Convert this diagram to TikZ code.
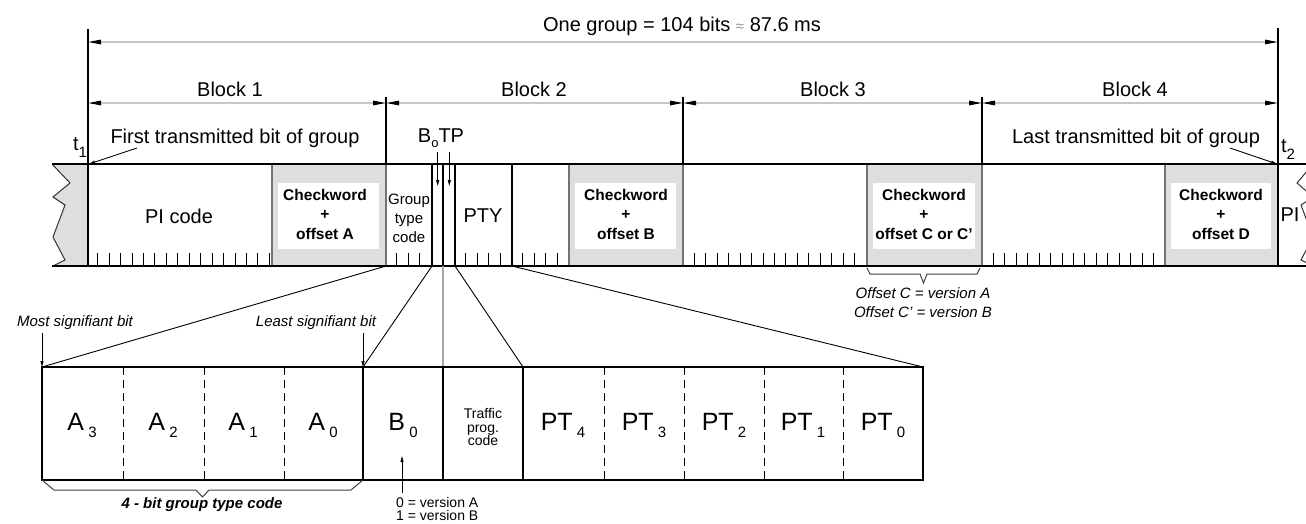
\documentclass[tikz,border=0pt]{standalone}
\usepackage{fontspec}
\setmainfont{Liberation Sans}
\usetikzlibrary{arrows.meta}
\newcommand\fsz[2]{\fontsize{#1}{#2}\selectfont}
\newcommand\lowsub[1]{\,\raisebox{-7pt}{\fsz{15}{15}#1}}
\newcommand\tsub[1]{\raisebox{-7pt}{\fsz{15}{15}#1}}
\begin{document}
\begin{tikzpicture}[x=1pt,y=-1pt,
  txt/.style={inner sep=0pt,font=\fsz{20}{24}},
  chk/.style={inner sep=0pt,align=center,font=\fsz{15.5}{19.5}\bfseries},
  gtc/.style={inner sep=0pt,align=center,font=\fsz{15}{19}},
  tpc/.style={inner sep=0pt,align=center,font=\fsz{14}{13.5}},
  small/.style={inner sep=0pt,font=\fsz{15}{18}\itshape},
  ver/.style={inner sep=0pt,font=\fsz{14}{16},anchor=west},
  cell/.style={inner sep=0pt,font=\fsz{25}{28}},
  dimline/.style={draw=black!22,line width=1.3pt,{Triangle[length=13pt,width=4.5pt,color=black]}-{Triangle[length=13pt,width=4.5pt,color=black]}},
  vline/.style={draw=black,line width=1.2pt},
  strip/.style={draw=black,line width=1.2pt},
  tick/.style={draw=black,line width=1pt},
  grayreg/.style={fill=black!13,draw=black!55,line width=1.2pt},
  innerbox/.style={fill=white,draw=none},
  fan/.style={draw=black,line width=0.9pt},
  ptr/.style={draw=black,line width=0.9pt,-{Triangle[length=6pt,width=3pt]}},
  bracel/.style={draw=black!75,line width=1pt},
  dashsep/.style={draw=black,line width=1pt,dash pattern=on 8pt off 5pt},
  zig/.style={draw=black!80,line width=1pt},
]
\useasboundingbox (0,0) rectangle (1306,523);
\clip (0,0) rectangle (1306,523);

% ---------- coordinates ----------
\coordinate (g0) at (88,42);   \coordinate (g1) at (1278,42);
\coordinate (b0) at (88,103);  \coordinate (b1) at (386,103);
\coordinate (b2) at (683,103); \coordinate (b3) at (982,103);
\coordinate (b4) at (1278,103);

% ---------- left broken edge ----------
\fill[black!13] (52,164) -- (70,183) -- (53,197) -- (65,205) -- (53,237) -- (65,260) -- (53,266) -- (88,266) -- (88,164) -- cycle;
\draw[zig] (52,164) -- (70,183) -- (53,197) -- (65,205) -- (53,237) -- (65,260) -- (53,266);

% ---------- checkword regions ----------
\foreach \a/\b in {272/386,569/683,867/982,1165/1278} {
  \path[grayreg] (\a,164) rectangle (\b,266);
  \path[innerbox] (\a+6,183) rectangle (\b-7,249);
}

% ---------- right broken edge ----------
\fill[white] (1313,164) -- (1297,183) -- (1313,197) -- (1301,205) -- (1313,237) -- (1301,260) -- (1313,266) -- (1330,266) -- (1330,164) -- cycle;
\draw[zig] (1313,164) -- (1297,183) -- (1313,197) -- (1301,205) -- (1313,237) -- (1301,260) -- (1313,266);

% ---------- ticks ----------
\foreach \k in {1,...,16} \draw[tick] ({88+\k*11.442-1.7},266) -- ++(0,-13);
\foreach \s in {386,455,512} \foreach \k in {1,...,4} \draw[tick] ({\s+\k*11.442-0.5},266) -- ++(0,-13);
\foreach \s in {683,982} \foreach \k in {1,...,15} \draw[tick] ({\s+\k*11.442},266) -- ++(0,-13);

% ---------- strip lines ----------
\draw[strip] (52,164) -- (1306,164);
\draw[strip] (52,266) -- (1306,266);
\draw[vline] (88,29) -- (88,266);
\draw[vline] (1278,28) -- (1278,266);
\foreach \x in {386,683,982} \draw[vline] (\x,97) -- (\x,164);
\foreach \x in {432,443,455,512} \draw[vline] (\x,164) -- (\x,266);

% ---------- dimension lines ----------
\draw[dimline] (g0) -- (g1);
\draw[dimline] (b0) -- (b1);
\draw[dimline] (b1) -- (b2);
\draw[dimline] (b2) -- (b3);
\draw[dimline] (b3) -- (b4);

\node[txt] (title) at (682,26) {One group = 104 bits {\color{black!45}\fsz{15}{15}≈} 87.6 ms};
\node[txt] (blk1) at (230,89) {Block 1};
\node[txt] (blk2) at (534,89) {Block 2};
\node[txt] (blk3) at (833,89) {Block 3};
\node[txt] (blk4) at (1135,89) {Block 4};

% ---------- labels above strip ----------
\node[txt] (first) at (235,138) {First transmitted bit of group};
\node[txt] (last) at (1136,138) {Last transmitted bit of group};
\node[txt] (t1) at (80,148) {t\tsub{1}};
\node[txt] (t2) at (1288,150) {t\tsub{2}};
\coordinate (t1tip) at (89,164);
\coordinate (t2tip) at (1277,164);
\coordinate (t1from) at (137,148);
\coordinate (t2from) at (1230,148);
\draw[ptr] (t1from) -- (t1tip);
\draw[ptr] (t2from) -- (t2tip);

\node[txt] (botp) at (441,138) {B\raisebox{-5pt}{\fsz{13}{13}o}TP};
\coordinate (bo1) at (437.7,152); \coordinate (bo2) at (437.7,186);
\coordinate (tp1) at (449.3,152); \coordinate (tp2) at (449.3,186);
\draw[ptr] (bo1) -- (bo2);
\draw[ptr] (tp1) -- (tp2);

% ---------- strip texts ----------
\node[txt] (pi) at (179,216) {PI code};
\node[chk] (ckA) at (325,214) {Checkword\\+\\offset A};
\node[gtc] (gtc) at (409,218) {Group\\type\\code};
\node[txt] (pty) at (483,216) {PTY};
\node[chk] (ckB) at (626,214) {Checkword\\+\\offset B};
\node[chk] (ckC) at (924,214) {Checkword\\+\\offset C or C'};
\node[chk] (ckD) at (1221,214) {Checkword\\+\\offset D};
\node[txt] (pi2) at (1290,215) {PI};

% ---------- offset C brace ----------
\draw[bracel] (867,268) -- (870,274) -- (920,274) -- (923.5,283) -- (927,274) -- (977,274) -- (980,268);
\node[small] (offc) at (923,293) {Offset C = version A};
\node[small] (offc2) at (923,312) {Offset C' = version B};

% ---------- fan lines ----------
\coordinate (s1) at (386,266); \coordinate (s2) at (432,266);
\coordinate (s3) at (455,266); \coordinate (s4) at (512,266);
\coordinate (s5) at (443,266);
\coordinate (r0) at (42,367);  \coordinate (r1) at (363,367);
\coordinate (r2) at (443,367); \coordinate (r3) at (523,367);
\coordinate (r4) at (923,367);
\draw[fan] (s1) -- (r0);
\draw[fan] (s2) -- (r1);
\draw[fan] (s3) -- (r3);
\draw[fan] (s4) -- (r4);
\draw[black!35,line width=1.2pt] (s5) -- (r2);

% ---------- expanded row ----------
\draw[strip] (42,367) rectangle (923,480);
\foreach \x in {363,443,523} \draw[vline] (\x,367) -- (\x,480);
\foreach \x in {123,204,284,604,684,764,843} \draw[dashsep] (\x,367) -- (\x,480);

\node[cell] (a3) at (82,425) {A\lowsub{3}};
\node[cell] (a2) at (163,425) {A\lowsub{2}};
\node[cell] (a1) at (243,425) {A\lowsub{1}};
\node[cell] (a0) at (323,425) {A\lowsub{0}};
\node[cell] (bz) at (403,425) {B\lowsub{0}};
\node[tpc] (tp) at (483,427) {Traffic\\prog.\\code};
\node[cell] (pt4) at (563,425) {PT\lowsub{4}};
\node[cell] (pt3) at (644,425) {PT\lowsub{3}};
\node[cell] (pt2) at (724,425) {PT\lowsub{2}};
\node[cell] (pt1) at (803,425) {PT\lowsub{1}};
\node[cell] (pt0) at (883,425) {PT\lowsub{0}};

% ---------- MSB / LSB ----------
\node[small] (msb) at (75,323) {Most signifiant bit};
\node[small] (lsb) at (316,323) {Least signifiant bit};
\coordinate (m1) at (42,333); \coordinate (l1) at (363,333);
\draw[ptr] (m1) -- (r0);
\draw[ptr] (l1) -- (r1);

% ---------- group type brace ----------
\draw[bracel] (42,480) -- (54,490) -- (196,490) -- (202.5,497) -- (209,490) -- (351,490) -- (363,480);
\node[inner sep=0pt,font=\fsz{15}{18}\bfseries\itshape] (gtlabel) at (202,505) {4 - bit group type code};

% ---------- B0 versions ----------
\coordinate (v1) at (402,493); \coordinate (v2) at (402,456);
\draw[ptr] (v1) -- (v2);
\node[ver] (va) at (396,502) {0 = version A};
\node[ver] (vb) at (396,515) {1 = version B};
\end{tikzpicture}
\end{document}
